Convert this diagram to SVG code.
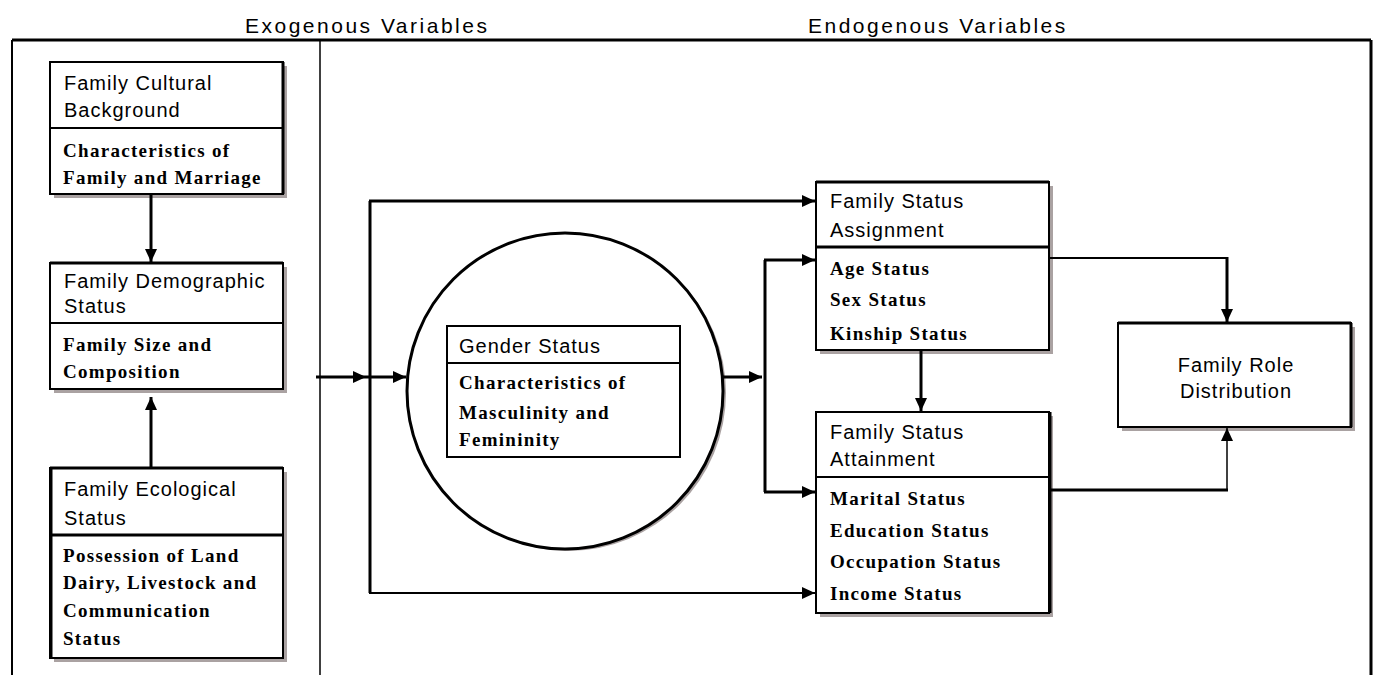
<svg xmlns="http://www.w3.org/2000/svg" width="1379" height="675" viewBox="0 0 1379 675">
<style>
.hd{font-family:"Liberation Sans",Arial,sans-serif;font-size:21px;letter-spacing:2.5px;fill:#000}
.t{font-family:"Liberation Sans",Arial,sans-serif;font-size:20px;letter-spacing:1px;fill:#000}
.s{font-family:"Liberation Serif","Times New Roman",serif;font-size:19px;font-weight:bold;letter-spacing:1.3px;fill:#000}
.box{fill:#fff;stroke:#000;stroke-width:2}
.sh{fill:#aaa2a2}
.dv{stroke:#000;stroke-width:2}
.c{fill:none;stroke:#000;stroke-width:3}
.c2{fill:none;stroke:#000;stroke-width:2}
.c1{fill:none;stroke:#000;stroke-width:1.5}
</style>
<defs>
<marker id="ah" markerUnits="userSpaceOnUse" markerWidth="14" markerHeight="12" viewBox="0 0 14 12" refX="13" refY="6" orient="auto">
<path d="M0,0 L13,6 L0,12 Z" fill="#000"/>
</marker>
</defs>
<rect width="1379" height="675" fill="#fff"/>
<g id="frame">
<line x1="12" y1="40" x2="1371" y2="40" stroke="#000" stroke-width="3"/>
<line x1="12" y1="40" x2="12" y2="675" stroke="#000" stroke-width="2"/>
<line x1="1371" y1="40" x2="1371" y2="675" stroke="#000" stroke-width="3"/>
<line x1="320" y1="40" x2="320" y2="675" stroke="#000" stroke-width="1.5"/>
<text class="hd" x="245" y="33">Exogenous Variables</text>
<text class="hd" x="808" y="33">Endogenous Variables</text>
</g>
<g id="cultural">
<rect class="sh" x="54" y="66" width="233" height="132"/>
<rect class="box" x="50" y="62" width="233" height="132"/>
<line class="dv" x1="50" y1="128" x2="283" y2="128"/>
<line x1="283" y1="62" x2="283" y2="194" stroke="#000" stroke-width="3"/>
<text class="t" x="64" y="90">Family Cultural</text>
<text class="t" x="64" y="117">Background</text>
<text class="s" x="63" y="157">Characteristics of</text>
<text class="s" x="63" y="184">Family and Marriage</text>
</g>
<g id="demographic">
<rect class="sh" x="54" y="267" width="233" height="126"/>
<rect class="box" x="50" y="263" width="233" height="126"/>
<line x1="50" y1="263" x2="283" y2="263" stroke="#000" stroke-width="3"/>
<line class="dv" x1="50" y1="323" x2="283" y2="323"/>
<text class="t" x="64" y="288">Family Demographic</text>
<text class="t" x="64" y="313">Status</text>
<text class="s" x="63" y="351">Family Size and</text>
<text class="s" x="63" y="378">Composition</text>
</g>
<g id="ecological">
<rect class="sh" x="54" y="472" width="233" height="190"/>
<rect class="box" x="50" y="468" width="233" height="190"/>
<line x1="50" y1="468" x2="283" y2="468" stroke="#000" stroke-width="3"/>
<line x1="51" y1="468" x2="51" y2="658" stroke="#000" stroke-width="3"/>
<line x1="50" y1="535" x2="283" y2="535" stroke="#000" stroke-width="3"/>
<text class="t" x="64" y="496">Family Ecological</text>
<text class="t" x="64" y="525">Status</text>
<text class="s" x="63" y="562">Possession of Land</text>
<text class="s" x="63" y="589">Dairy, Livestock and</text>
<text class="s" x="63" y="617">Communication</text>
<text class="s" x="63" y="645">Status</text>
</g>
<g id="gender">
<circle cx="568" cy="393" r="158" fill="#aaa2a2"/>
<circle cx="565" cy="391" r="158" fill="#fff" stroke="#000" stroke-width="3"/>
<rect class="box" x="447" y="326" width="233" height="131"/>
<line class="dv" x1="447" y1="363" x2="680" y2="363"/>
<text class="t" x="459" y="353">Gender Status</text>
<text class="s" x="459" y="389">Characteristics of</text>
<text class="s" x="459" y="419">Masculinity and</text>
<text class="s" x="459" y="446">Femininity</text>
</g>
<g id="assignment">
<rect class="sh" x="820" y="186" width="233" height="168"/>
<rect class="box" x="816" y="182" width="233" height="168"/>
<line x1="816" y1="182" x2="1049" y2="182" stroke="#000" stroke-width="3"/>
<line x1="816" y1="247" x2="1049" y2="247" stroke="#000" stroke-width="3"/>
<text class="t" x="830" y="208">Family Status</text>
<text class="t" x="830" y="237">Assignment</text>
<text class="s" x="830" y="275">Age Status</text>
<text class="s" x="830" y="306">Sex Status</text>
<text class="s" x="830" y="340">Kinship Status</text>
</g>
<g id="attainment">
<rect class="sh" x="820" y="416" width="233" height="201"/>
<rect class="box" x="816" y="412" width="233" height="201"/>
<line x1="1050" y1="412" x2="1050" y2="613" stroke="#000" stroke-width="3"/>
<line class="dv" x1="816" y1="477" x2="1049" y2="477"/>
<text class="t" x="830" y="439">Family Status</text>
<text class="t" x="830" y="466">Attainment</text>
<text class="s" x="830" y="505">Marital Status</text>
<text class="s" x="830" y="537">Education Status</text>
<text class="s" x="830" y="568">Occupation Status</text>
<text class="s" x="830" y="600">Income Status</text>
</g>
<g id="role">
<rect class="sh" x="1122" y="327" width="233" height="104"/>
<rect class="box" x="1118" y="323" width="233" height="104"/>
<line x1="1118" y1="323" x2="1351" y2="323" stroke="#000" stroke-width="3"/>
<line x1="1351" y1="323" x2="1351" y2="427" stroke="#000" stroke-width="3"/>
<text class="t" x="1236" y="372" text-anchor="middle">Family Role</text>
<text class="t" x="1236" y="398" text-anchor="middle">Distribution</text>
</g>
<g id="connectors">
<path class="c" d="M151,195 V262" marker-end="url(#ah)"/>
<path class="c" d="M151,468 V397" marker-end="url(#ah)"/>
<path class="c" d="M316,377 H366" marker-end="url(#ah)"/>
<path class="c" d="M366,377 H406" marker-end="url(#ah)"/>
<path class="c" d="M370,201 V593"/>
<path class="c" d="M369,201 H815" marker-end="url(#ah)"/>
<path class="c2" d="M369,593 H815" marker-end="url(#ah)"/>
<path class="c" d="M723,377 H762" marker-end="url(#ah)"/>
<path class="c" d="M765,260 V492"/>
<path class="c" d="M764,260 H815" marker-end="url(#ah)"/>
<path class="c" d="M764,492 H815" marker-end="url(#ah)"/>
<path class="c" d="M921,351 V411" marker-end="url(#ah)"/>
<path class="c2" d="M1049,258 H1227"/>
<path class="c" d="M1227,257 V322" marker-end="url(#ah)"/>
<path class="c" d="M1051,490 H1228"/>
<path class="c1" d="M1227,490 V428" marker-end="url(#ah)"/>
</g>
</svg>
